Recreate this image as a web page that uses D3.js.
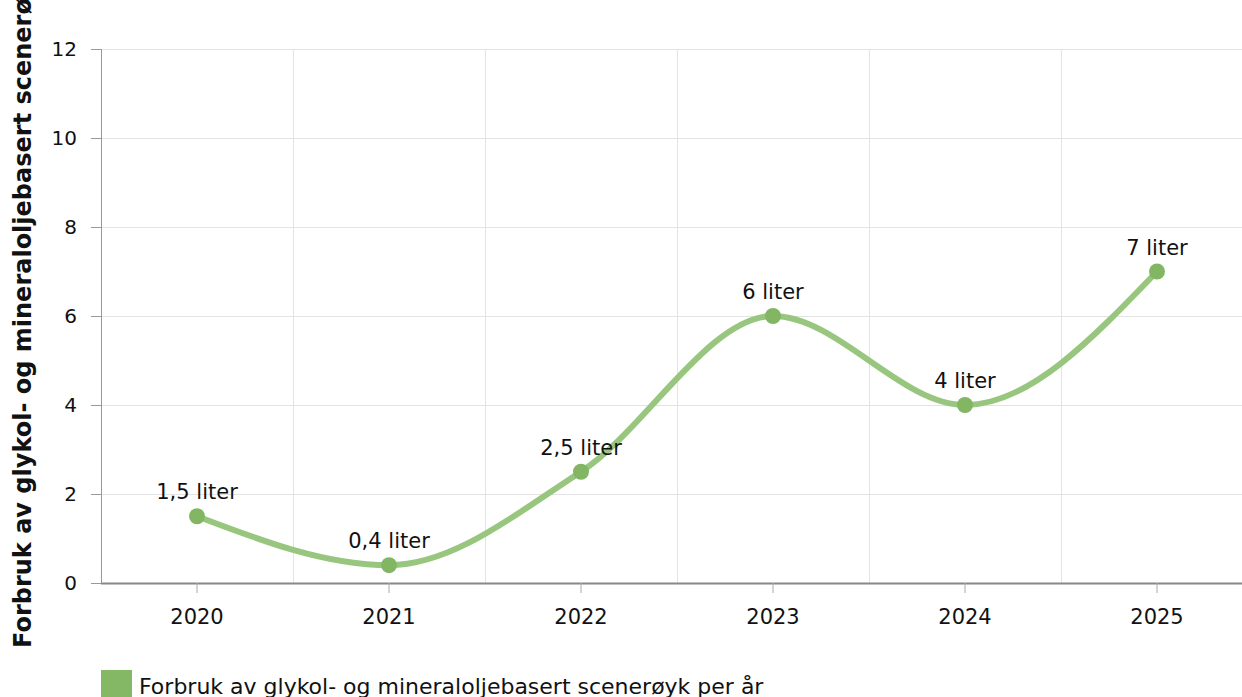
<!DOCTYPE html>
<html>
<head>
<meta charset="utf-8">
<script src="https://cdn.jsdelivr.net/npm/d3@7"></script>
<style>
body{margin:0;background:#fff;overflow:hidden}
svg text{font-family:"DejaVu Sans",Verdana,sans-serif}
</style>
</head>
<body>
<script>
var years=["2020","2021","2022","2023","2024","2025"]
var values=[1.5,0.4,2.5,6,4,7]
var labels=["1,5 liter","0,4 liter","2,5 liter","6 liter","4 liter","7 liter"]
var yTicks=[0,2,4,6,8,10,12]
var yTitle="Forbruk av glykol- og mineraloljebasert scenerøyk per år"
var legendText="Forbruk av glykol- og mineraloljebasert scenerøyk per år"

var screen={width:1242,height:697}
var margins={top:49,left:101,bottom:114}
var svg=d3.select("body").append("svg")
          .attr("width",screen.width)
          .attr("height",screen.height)

var xScale=d3.scaleBand()
   .domain(years)
   .range([margins.left,margins.left+6*192])
var yScale=d3.scaleLinear()
   .domain([0,12])
   .range([screen.height-margins.bottom,margins.top])

// gridlines
svg.append("g").selectAll("line")
   .data(yTicks)
   .enter().append("line")
   .attr("x1",margins.left).attr("x2",screen.width)
   .attr("y1",function(d){return yScale(d)+0.5})
   .attr("y2",function(d){return yScale(d)+0.5})
   .attr("stroke","#e3e3e3").attr("stroke-width",1)
svg.append("g").selectAll("line")
   .data(years.slice(1))
   .enter().append("line")
   .attr("x1",function(d){return xScale(d)+0.5})
   .attr("x2",function(d){return xScale(d)+0.5})
   .attr("y1",yScale(12)).attr("y2",yScale(0))
   .attr("stroke","#e3e3e3").attr("stroke-width",1)

// axes
var yAxis=svg.append("g")
   .attr("transform","translate("+margins.left+",0)")
   .call(d3.axisLeft(yScale).tickValues(yTicks).tickSize(10).tickPadding(14))
yAxis.select(".domain").attr("stroke","#999").attr("d","M0.5,"+yScale(12)+"V"+yScale(0))
yAxis.selectAll(".tick line").attr("stroke","#999")
yAxis.selectAll("text").style("font-size","20px").attr("fill","#111")

var xAxis=svg.append("g")
   .attr("transform","translate(0,"+yScale(0)+")")
   .call(d3.axisBottom(xScale).tickSize(10).tickPadding(16))
xAxis.select(".domain").attr("stroke","#888").attr("stroke-width",2)
   .attr("d","M"+margins.left+",0.5H"+(margins.left+6*192))
xAxis.selectAll(".tick line").attr("stroke","#aaa")
xAxis.selectAll("text").style("font-size","21px").attr("fill","#111")

// y title (clipped at the top, as in the original)
svg.append("text")
   .attr("transform","translate(31,648) rotate(-90)")
   .attr("text-anchor","start")
   .style("font-size","24px")
   .attr("font-weight","bold")
   .attr("fill","#111")
   .text(yTitle)

// line
var line=d3.line()
   .x(function(d,i){return xScale(years[i])+xScale.bandwidth()/2})
   .y(function(d){return yScale(d)})
   .curve(d3.curveMonotoneX)
svg.append("path")
   .datum(values)
   .attr("d",line)
   .attr("fill","none")
   .attr("stroke","#98c67f")
   .attr("stroke-width",6)
   .attr("stroke-linecap","round")

svg.append("g").selectAll("circle")
   .data(values)
   .enter().append("circle")
   .attr("cx",function(d,i){return xScale(years[i])+xScale.bandwidth()/2})
   .attr("cy",function(d){return yScale(d)})
   .attr("r",8)
   .attr("fill","#82b662")

svg.append("g").selectAll("text")
   .data(values)
   .enter().append("text")
   .attr("x",function(d,i){return xScale(years[i])+xScale.bandwidth()/2})
   .attr("y",function(d){return yScale(d)-17})
   .attr("text-anchor","middle")
   .style("font-size","21px")
   .attr("fill","#111")
   .text(function(d,i){return labels[i]})

// legend
var legend=svg.append("g").attr("transform","translate(101,670)")
legend.append("rect").attr("width",31).attr("height",28).attr("fill","#85b865")
legend.append("text").attr("x",38).attr("y",24)
   .style("font-size","22px").attr("fill","#111")
   .text(legendText)
</script>
</body>
</html>
